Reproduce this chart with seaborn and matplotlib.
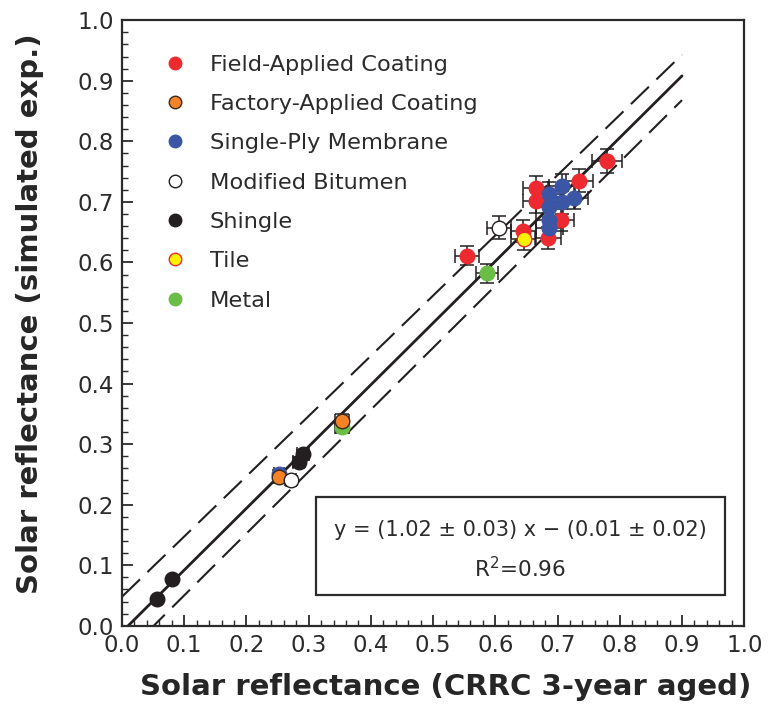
import numpy as np
import pandas as pd
import seaborn as sns
import matplotlib.pyplot as plt
from matplotlib.lines import Line2D
from matplotlib.patches import Rectangle

# data (x = CRRC 3-year aged, y = simulated exp.)
field_x = [0.780, 0.665, 0.735, 0.665, 0.705, 0.645, 0.685, 0.555]
field_y = [0.767, 0.723, 0.735, 0.701, 0.670, 0.652, 0.640, 0.611]
field_xerr = [0.024, 0.020, 0.022, 0.020, 0.021, 0.020, 0.021, 0.019]
field_yerr = [0.020, 0.019, 0.019, 0.019, 0.018, 0.018, 0.018, 0.016]

ply_x = [0.707, 0.687, 0.707, 0.727, 0.687, 0.687, 0.687, 0.252]
ply_y = [0.727, 0.713, 0.699, 0.707, 0.692, 0.670, 0.657, 0.250]
ply_xerr = [0.021, 0.021, 0.021, 0.022, 0.021, 0.021, 0.021, 0.008]
ply_yerr = [0.019, 0.019, 0.019, 0.019, 0.018, 0.018, 0.018, 0.007]

factory_x = [0.354, 0.252]
factory_y = [0.339, 0.245]
factory_xerr = [0.011, 0.008]
factory_yerr = [0.010, 0.007]

modbit_x = [0.606, 0.272]
modbit_y = [0.657, 0.240]
modbit_xerr = [0.019, 0.008]
modbit_yerr = [0.019, 0.007]

shingle_x = [0.291, 0.284, 0.081, 0.057]
shingle_y = [0.283, 0.271, 0.077, 0.044]
shingle_xerr = [0.009, 0.009, 0.003, 0.002]
shingle_yerr = [0.008, 0.008, 0.002, 0.001]

tile_x = [0.646]
tile_y = [0.639]
tile_xerr = [0.020]
tile_yerr = [0.018]

metal_x = [0.587, 0.354]
metal_y = [0.582, 0.329]
metal_xerr = [0.018, 0.011]
metal_yerr = [0.016, 0.010]

# fit y = a x + b and the dashed band
fit_a, fit_b = 1.02, -0.01
fit_x = [0.0, 0.9]
band_x = [0.0, 0.9]
band_upper = [0.048, 0.943]
band_lower = [-0.052, 0.868]

ticks = [0.0, 0.1, 0.2, 0.3, 0.4, 0.5, 0.6, 0.7, 0.8, 0.9, 1.0]

labels = ["Field-Applied Coating", "Factory-Applied Coating", "Single-Ply Membrane",
          "Modified Bitumen", "Shingle", "Tile", "Metal"]
face = {"Field-Applied Coating": "#ED2A2F", "Factory-Applied Coating": "#F58226",
        "Single-Ply Membrane": "#3B56A5", "Modified Bitumen": "#FFFFFF",
        "Shingle": "#231F20", "Tile": "#FFF200", "Metal": "#6ABD45"}
edge = {"Field-Applied Coating": "#ED2A2F", "Factory-Applied Coating": "#3a2a1a",
        "Single-Ply Membrane": "#3B56A5", "Modified Bitumen": "#231F20",
        "Shingle": "#231F20", "Tile": "#ED2A2F", "Metal": "#6ABD45"}

groups = [("Metal", metal_x, metal_y, metal_xerr, metal_yerr),
          ("Field-Applied Coating", field_x, field_y, field_xerr, field_yerr),
          ("Single-Ply Membrane", ply_x, ply_y, ply_xerr, ply_yerr),
          ("Factory-Applied Coating", factory_x, factory_y, factory_xerr, factory_yerr),
          ("Modified Bitumen", modbit_x, modbit_y, modbit_xerr, modbit_yerr),
          ("Shingle", shingle_x, shingle_y, shingle_xerr, shingle_yerr),
          ("Tile", tile_x, tile_y, tile_xerr, tile_yerr)]

rows = []
for name, xs, ys, xe, ye in groups:
    for i in range(len(xs)):
        rows.append({"type": name, "x": xs[i], "y": ys[i], "xerr": xe[i], "yerr": ye[i]})
df = pd.DataFrame(rows)

sns.set_style("ticks")
plt.rcParams['font.family'] = ['DejaVu Sans']
plt.rcParams['text.color'] = '#2b2b2b'

fig = plt.figure(figsize=(7.72, 7.21), dpi=100)
ax = fig.add_axes([0.158, 0.132, 0.806, 0.840])

# fit line and band
ax.plot(fit_x, [fit_a * v + fit_b for v in fit_x], color='#231F20', lw=2.0, zorder=2)
ax.plot(band_x, band_upper, color='#231F20', lw=1.5, dashes=(12, 5), zorder=2)
ax.plot(band_x, band_lower, color='#231F20', lw=1.5, dashes=(12, 5), zorder=2)

# error bars
ax.errorbar(df["x"], df["y"], xerr=df["xerr"], yerr=df["yerr"], fmt='none',
            ecolor='#231F20', elinewidth=1.1, capsize=5, capthick=1.1, zorder=3)

# points, one group at a time to keep the drawing order
for k, (name, xs, ys, xe, ye) in enumerate(groups):
    sub = df[df["type"] == name]
    sns.scatterplot(data=sub, x="x", y="y", ax=ax, s=110, color=face[name],
                    edgecolor=edge[name], linewidth=1.0, zorder=4 + k, legend=False)

ax.set_xlim(0, 1)
ax.set_ylim(0, 1)
ax.set_xticks(ticks)
ax.set_yticks(ticks)
ax.set_xticks(np.arange(0, 1.001, 0.02), minor=True)
ax.set_yticks(np.arange(0, 1.001, 0.02), minor=True)
ax.set_xticklabels([f"{t:.1f}" for t in ticks])
ax.set_yticklabels([f"{t:.1f}" for t in ticks])
ax.tick_params(which='major', direction='in', length=8, width=1.3, labelsize=16.5,
               colors='#2b2b2b', pad=6, top=False, right=False)
ax.tick_params(which='minor', direction='in', length=4, width=1.0, colors='#2b2b2b',
               top=False, right=False)
for sp in ax.spines.values():
    sp.set_visible(True)
    sp.set_linewidth(1.6)
    sp.set_color('#2b2b2b')

ax.set_xlabel("Solar reflectance (CRRC 3-year aged)", fontsize=21, fontweight='bold')
ax.set_ylabel("Solar reflectance (simulated exp.)", fontsize=21, fontweight='bold')
ax.xaxis.set_label_coords(0.521, -0.078)
ax.yaxis.set_label_coords(-0.125, 0.515)

handles = [Line2D([], [], ls='none', marker='o', markersize=9, markerfacecolor=face[n],
                  markeredgecolor=edge[n], markeredgewidth=1.0) for n in labels]
ax.legend(handles, labels, loc='upper left', bbox_to_anchor=(0.034, 0.958), frameon=False,
          fontsize=16.2, handletextpad=0.55, labelspacing=0.86, borderaxespad=0.0)

# equation box
ax.add_patch(Rectangle((0.312, 0.051), 0.657, 0.162, transform=ax.transAxes,
                       fill=False, edgecolor='#2b2b2b', lw=1.6, zorder=5))
ax.text(0.640, 0.158, "y = (1.02 \u00b1 0.03) x \u2212 (0.01 \u00b1 0.02)", transform=ax.transAxes,
        ha='center', va='center', fontsize=15)
ax.text(0.640, 0.094, "R$^2$=0.96", transform=ax.transAxes, ha='center', va='center',
        fontsize=15.5)

fig.savefig("out.png", dpi=100)
